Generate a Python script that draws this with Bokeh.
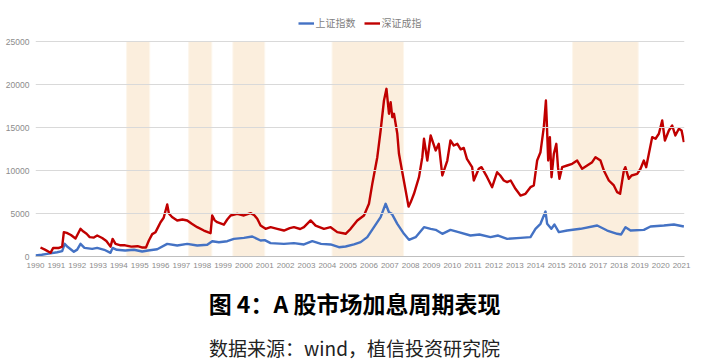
from bokeh.plotting import figure
from bokeh.models import Range1d, FixedTicker, Legend, LegendItem, NumeralTickFormatter
from bokeh.layouts import column
from bokeh.core.properties import value
from bokeh.embed import file_html
from bokeh.resources import INLINE

# ---------------- data (positions on the chart's year axis) ----------------
sz_x = [1990.24, 1990.45, 1990.72, 1990.85, 1991.1, 1991.28, 1991.36, 1991.5, 1991.7, 1991.92,
        1992.16, 1992.3, 1992.45, 1992.6, 1992.8, 1992.96, 1993.2, 1993.4, 1993.6, 1993.7,
        1993.84, 1994.08, 1994.3, 1994.6, 1994.9, 1995.1, 1995.3, 1995.44, 1995.6, 1995.76,
        1995.9, 1996.0, 1996.15, 1996.32, 1996.4, 1996.55, 1996.8, 1997.05, 1997.28, 1997.5,
        1997.76, 1998.08, 1998.3, 1998.4, 1998.48, 1998.6, 1998.72, 1999.04, 1999.2, 1999.36,
        1999.68, 2000.0, 2000.32, 2000.5, 2000.64, 2000.8, 2001.04, 2001.28, 2001.6, 2001.92,
        2002.2, 2002.4, 2002.7, 2002.88, 2003.2, 2003.44, 2003.84, 2004.16, 2004.48, 2004.88,
        2005.12, 2005.44, 2005.76, 2006.0, 2006.16, 2006.4, 2006.56, 2006.72, 2006.84, 2006.96,
        2007.04, 2007.12, 2007.2, 2007.36, 2007.44, 2007.6, 2007.76, 2007.9, 2008.0, 2008.16,
        2008.4, 2008.56, 2008.64, 2008.8, 2008.96, 2009.2, 2009.35, 2009.52, 2009.76, 2009.91,
        2010.07, 2010.24, 2010.4, 2010.55, 2010.7, 2010.95, 2011.03, 2011.27, 2011.4, 2011.67,
        2011.91, 2012.15, 2012.3, 2012.47, 2012.63, 2012.8, 2013.03, 2013.27, 2013.51, 2013.75,
        2013.91, 2014.07, 2014.23, 2014.39, 2014.49, 2014.53, 2014.6, 2014.68, 2014.76, 2014.87,
        2014.99, 2015.07, 2015.14, 2015.27, 2015.51, 2015.75, 2015.99, 2016.23, 2016.47, 2016.71,
        2016.87, 2017.11, 2017.27, 2017.51, 2017.75, 2017.91, 2018.05, 2018.23, 2018.3, 2018.47,
        2018.6, 2018.87, 2019.03, 2019.19, 2019.3, 2019.43, 2019.59, 2019.75, 2019.91, 2020.07,
        2020.2, 2020.39, 2020.55, 2020.7, 2020.87, 2021.0, 2021.11]
sz_values = [1050, 800, 430, 1000, 980, 1150, 2830, 2750, 2500, 2090,
             3220, 2900, 2640, 2250, 2200, 2440, 2150, 1800, 1150, 2050,
             1470, 1300, 1300, 1150, 1200, 1050, 1050, 1860, 2600, 2830,
             3500, 3990, 4500, 6050, 5000, 4600, 4190, 4300, 4190, 3800,
             3410, 3020, 2800, 2710, 4770, 4200, 3990, 3700, 4300, 4770,
             4960, 4770, 5040, 4800, 4380, 3600, 3220, 3410, 3220, 3020,
             3300, 3410, 3200, 3410, 4190, 3600, 3220, 3410, 2830, 2640,
             3220, 4190, 4770, 6130, 8450, 11550, 14650, 18140, 19500, 16600,
             17950, 16200, 16600, 14270, 11940, 9800, 7680, 5800, 6300, 7290,
             9220, 11550, 13690, 11160, 14070, 12330, 13100, 9420, 11160, 13490,
             12910, 13100, 12460, 12620, 11360, 10390, 8840, 10200, 10390, 9220,
             8060, 9800, 9420, 8840, 8650, 8840, 7870, 7090, 7290, 8060,
             8260, 11160, 12130, 15040, 18140, 15800, 11160, 13880, 9220, 11940,
             13100, 10390, 9030, 10390, 10580, 10780, 11160, 10200, 10580, 10970,
             11550, 11160, 10000, 8840, 8260, 7480, 7290, 10000, 10390, 9030,
             9420, 9610, 10200, 11160, 10390, 11940, 13880, 13690, 14270, 15810,
             13490, 14650, 15230, 14070, 14850, 14650, 13300]

sh_x = [1990.0, 1990.3, 1990.56, 1991.04, 1991.28, 1991.4, 1991.55, 1991.84, 1992.0, 1992.16,
        1992.35, 1992.72, 1992.96, 1993.3, 1993.6, 1993.7, 1993.9, 1994.3, 1994.72, 1995.12,
        1995.4, 1995.84, 1996.32, 1996.8, 1997.28, 1997.76, 1998.24, 1998.48, 1998.8, 1999.2,
        1999.52, 2000.0, 2000.4, 2000.8, 2001.0, 2001.28, 2001.92, 2002.4, 2002.88, 2003.28,
        2003.7, 2004.16, 2004.56, 2004.88, 2005.28, 2005.6, 2005.92, 2006.24, 2006.56, 2006.8,
        2006.96, 2007.1, 2007.36, 2007.68, 2007.92, 2008.24, 2008.64, 2008.96, 2009.2, 2009.52,
        2009.91, 2010.3, 2010.87, 2011.3, 2011.83, 2012.2, 2012.63, 2013.27, 2013.75, 2013.99,
        2014.23, 2014.47, 2014.55, 2014.75, 2014.9, 2015.11, 2015.51, 2016.15, 2016.95, 2017.43,
        2017.91, 2018.1, 2018.31, 2018.55, 2019.19, 2019.51, 2020.15, 2020.63, 2021.11]
sh_values = [130, 200, 310, 500, 620, 1470, 1100, 550, 800, 1470,
             1000, 890, 1000, 780, 430, 1000, 780, 700, 780, 580,
             700, 850, 1470, 1280, 1470, 1280, 1360, 1780, 1660, 1780,
             2050, 2170, 2330, 1860, 1900, 1550, 1470, 1550, 1400, 1780,
             1470, 1400, 1080, 1160, 1400, 1670, 2250, 3410, 4570, 6130,
             5150, 4960, 3800, 2640, 1940, 2250, 3410, 3220, 3100, 2640,
             3100, 2830, 2440, 2560, 2250, 2440, 2050, 2170, 2250, 3220,
             3800, 5230, 3800, 3220, 3720, 2830, 3020, 3220, 3600, 3020,
             2640, 2560, 3410, 3020, 3100, 3490, 3600, 3720, 3490]

band_start = [1994.37, 1997.35, 1999.47, 2004.23, 2015.77]
band_end = [1995.48, 1998.46, 2001.0, 2007.66, 2018.92]

year_ticks = list(range(1990, 2022))
y_ticks = [0, 5000, 10000, 15000, 20000, 25000]

series_names = ["上证指数", "深证成指"]
title_text = "图 4：A 股市场加息周期表现"
source_text = "数据来源：wind，植信投资研究院"

# ---------------- main chart ----------------
# frame spans the whole top area; the headroom above 25000 holds the legend
y_top = y_ticks[-1] * 256.0 / 215.0
p = figure(width=710, height=283, output_backend="svg", toolbar_location=None,
           x_range=Range1d(1990, 2021.14), y_range=Range1d(y_ticks[0], y_top),
           min_border_left=35, min_border_right=26, min_border_top=0, min_border_bottom=27)
p.outline_line_color = None
p.background_fill_color = "white"
p.border_fill_color = "white"

p.xgrid.visible = False
p.ygrid.grid_line_color = "#D9D9D9"
p.ygrid.grid_line_width = 1
p.ygrid.level = "glyph"
p.ygrid.ticker = FixedTicker(ticks=y_ticks)

tick_font = "Liberation Sans Narrow, Arial Narrow, Liberation Sans, sans-serif"
p.yaxis.ticker = FixedTicker(ticks=y_ticks)
p.yaxis.formatter = NumeralTickFormatter(format="0")
p.yaxis.axis_line_color = None
p.yaxis.major_tick_line_color = None
p.yaxis.minor_tick_line_color = None
p.yaxis.major_tick_in = 0
p.yaxis.major_tick_out = 0
p.yaxis.major_label_standoff = 6
p.yaxis.major_label_text_font = tick_font
p.yaxis.major_label_text_font_size = "8.5px"
p.yaxis.major_label_text_color = "#8C8C8C"

p.xaxis.ticker = FixedTicker(ticks=year_ticks)
p.xaxis.major_label_overrides = {y: str(y) for y in year_ticks}
p.xaxis.axis_line_color = "#BFBFBF"
p.xaxis.major_tick_line_color = None
p.xaxis.minor_tick_line_color = None
p.xaxis.major_tick_in = 0
p.xaxis.major_tick_out = 0
p.xaxis.major_label_standoff = 6
p.xaxis.major_label_text_font = tick_font
p.xaxis.major_label_text_font_size = "8px"
p.xaxis.major_label_text_color = "#8C8C8C"

p.quad(left=band_start, right=band_end, bottom=y_ticks[0], top=y_ticks[-1],
       fill_color="#FBEEDD", line_color="#FDF6EC", line_width=1, level="underlay")

r_sh = p.line(sh_x, sh_values, line_color="#4472C4", line_width=2.4, line_join="round")
r_sz = p.line(sz_x, sz_values, line_color="#C00000", line_width=2.4, line_join="round")

legend = Legend(items=[LegendItem(label=series_names[0], renderers=[r_sh]),
                       LegendItem(label=series_names[1], renderers=[r_sz])],
                orientation="horizontal", location="top_center",
                label_text_font="Noto Sans CJK SC", label_text_font_size="10px",
                label_text_color="#7F7F7F", glyph_width=16, glyph_height=10,
                label_standoff=2, spacing=8, padding=0, margin=15, label_height=12,
                border_line_color=None, background_fill_alpha=0)
p.add_layout(legend)

# ---------------- caption area ----------------
p2 = figure(width=710, height=80, output_backend="svg", toolbar_location=None,
            x_range=Range1d(0, 710), y_range=Range1d(0, 80),
            x_axis_location=None, y_axis_location=None, min_border=0)
p2.outline_line_color = None
p2.xgrid.visible = False
p2.ygrid.visible = False
p2.text(x=[349], y=[61], text=[title_text], text_align="center", text_baseline="middle",
        text_font=value("Noto Sans CJK SC"), text_font_style="bold",
        text_font_size="23px", text_color="#000000")
p2.text(x=[349], y=[16], text=[source_text], text_align="center", text_baseline="middle",
        text_font=value("Noto Sans CJK SC"), text_font_size="19px", text_color="#222222")

layout = column(p, p2, spacing=0)
open("out.html", "w").write(file_html(layout, INLINE))
